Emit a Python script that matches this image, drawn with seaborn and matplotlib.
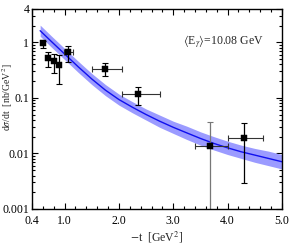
import numpy as np
import pandas as pd
import seaborn as sns
import matplotlib.pyplot as plt
from matplotlib.ticker import MultipleLocator, LogLocator, NullFormatter

# model curve
t_curve = [0.55, 0.75, 1.0, 1.25, 1.5, 1.75, 2.0, 2.25, 2.5, 2.75,
           3.0, 3.25, 3.5, 3.75, 4.0, 4.25, 4.5, 4.75, 5.0]
sig_curve = [1.62, 1.05, 0.617, 0.363, 0.219, 0.138, 0.0933, 0.0676, 0.0501, 0.0380,
             0.0295, 0.0234, 0.0186, 0.0151, 0.0126, 0.0107, 0.00933, 0.00813, 0.00708]
sig_upper = [2.04, 1.32, 0.776, 0.457, 0.275, 0.174, 0.117, 0.0851, 0.0631, 0.0490,
             0.0380, 0.0309, 0.0245, 0.0200, 0.0166, 0.0141, 0.0123, 0.0110, 0.00955]
sig_lower = [1.29, 0.832, 0.490, 0.288, 0.174, 0.110, 0.0741, 0.0537, 0.0398, 0.0295,
             0.0229, 0.0178, 0.0141, 0.0115, 0.00955, 0.00813, 0.00692, 0.00603, 0.00525]

# data points
t_data = [0.60, 0.70, 0.80, 0.90, 1.06, 1.75, 2.35, 3.68, 4.30]
sig_data = [0.96, 0.52, 0.46, 0.39, 0.66, 0.33, 0.117, 0.0138, 0.0187]
sig_lo = [0.80, 0.365, 0.285, 0.178, 0.45, 0.245, 0.0745, 0.0001, 0.00297]
sig_hi = [1.07, 0.66, 0.62, 0.59, 0.87, 0.42, 0.159, 0.0364, 0.0349]
t_lo = [0.60, 0.70, 0.80, 0.90, 0.98, 1.50, 2.05, 3.40, 4.00]
t_hi = [0.60, 0.70, 0.80, 0.90, 1.15, 2.06, 2.75, 4.00, 4.65]

xtick_vals = [0.4, 1.0, 2.0, 3.0, 4.0, 5.0]
xtick_labels = ['0.4', '1.0', '2.0', '3.0', '4.0', '5.0']
ytick_vals = [0.001, 0.01, 0.1, 1, 4]
ytick_labels = ['0.001', '0.01', '0.1', '1', '4']

curve = pd.DataFrame({'t': t_curve, 'sig': sig_curve})
data = pd.DataFrame({'t': t_data, 'sig': sig_data, 'lo': sig_lo, 'hi': sig_hi,
                     'tlo': t_lo, 'thi': t_hi})

sns.set_style('ticks')
plt.rcParams['font.family'] = ['Liberation Serif', 'DejaVu Serif']
plt.rcParams['mathtext.fontset'] = 'stix'

fig = plt.figure(figsize=(2.99, 2.47), dpi=100)
ax = fig.add_axes([0.107, 0.154, 0.836, 0.810])

ax.fill_between(t_curve, sig_lower, sig_upper, color='#9b9bff', lw=0)
sns.lineplot(data=curve, x='t', y='sig', ax=ax, color='#1010ee', lw=1.0)

yerr = [data['sig'] - data['lo'], data['hi'] - data['sig']]
xerr = [data['t'] - data['tlo'], data['thi'] - data['t']]
for i in range(len(data)):
    ecol = '#777777' if i == 7 else 'black'
    ax.errorbar(data['t'][i], data['sig'][i],
                yerr=[[yerr[0][i]], [yerr[1][i]]], fmt='none',
                ecolor=ecol, elinewidth=0.9, capsize=2, capthick=0.8)
    if xerr[0][i] > 0:
        ax.errorbar(data['t'][i], data['sig'][i],
                    xerr=[[xerr[0][i]], [xerr[1][i]]], fmt='none',
                    ecolor='#333333', elinewidth=0.8, capsize=2, capthick=0.8)
sns.scatterplot(data=data, x='t', y='sig', ax=ax, marker='s', s=16,
                color='black', edgecolor='black', zorder=5)

ax.set_yscale('log')
ax.set_xlim(0.4, 5.0)
ax.set_ylim(0.001, 4)
ax.set_xticks(xtick_vals)
ax.set_xticklabels(xtick_labels)
ax.xaxis.set_minor_locator(MultipleLocator(0.2))
ax.set_yticks(ytick_vals)
ax.set_yticklabels(ytick_labels)
ax.yaxis.set_minor_locator(LogLocator(base=10, subs=np.arange(2, 10), numticks=20))
ax.yaxis.set_minor_formatter(NullFormatter())

ax.tick_params(which='both', direction='in', top=True, right=True, labelsize=8.5,
               width=0.8, colors='black')
ax.tick_params(which='major', length=4, pad=4)
ax.tick_params(which='minor', length=2)
ax.tick_params(axis='y', which='major', pad=2)
for sp in ax.spines.values():
    sp.set_linewidth(1.0)
    sp.set_color('black')

ax.set_xlabel('$-$t  [GeV$^2$]', fontsize=8.5, labelpad=2)
ax.set_ylabel(r'd$\sigma$/dt  [nb/GeV$^2$]', fontsize=7)
ax.yaxis.set_label_coords(-0.068, 0.56)
ax.text(0.604, 0.835, r'$\langle$E$_\gamma\rangle$=10.08 GeV', transform=ax.transAxes,
        fontsize=8.5, va='center', ha='left')

fig.savefig('out.png', dpi=100)
